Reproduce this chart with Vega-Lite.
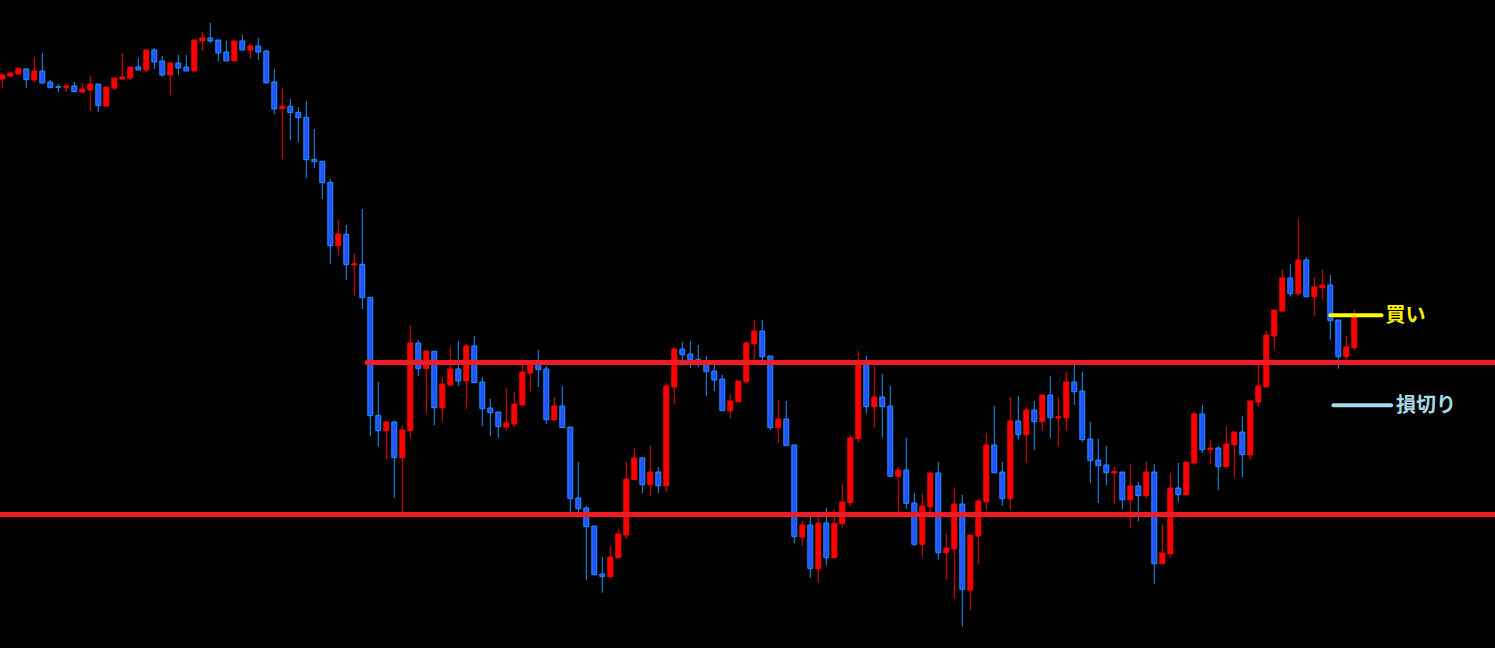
{
"$schema": "https://vega.github.io/schema/vega-lite/v6.json",
"width": 1495, "height": 648,
"autosize": {"type": "none"},
"padding": 0,
"background": "#000000",
"config": {"view": {"stroke": null}},
"datasets": {
"candles": [
{"i":0,"o":569,"h":574.7,"l":560,"c":573},
{"i":1,"o":572,"h":576.3,"l":571,"c":575},
{"i":2,"o":574,"h":580.7,"l":574,"c":579.3},
{"i":3,"o":579,"h":580,"l":560,"c":568.3},
{"i":4,"o":568,"h":591,"l":566,"c":577},
{"i":5,"o":577,"h":595,"l":564,"c":565},
{"i":6,"o":566,"h":568,"l":560.3,"c":560.3},
{"i":7,"o":561.3,"h":564,"l":556,"c":560.7},
{"i":8,"o":560.3,"h":564,"l":556,"c":562},
{"i":9,"o":562,"h":566,"l":556.3,"c":556.3},
{"i":10,"o":556,"h":565,"l":555,"c":559},
{"i":11,"o":558,"h":572,"l":537,"c":564},
{"i":12,"o":564,"h":564,"l":536,"c":542.3},
{"i":13,"o":542,"h":561,"l":542,"c":561},
{"i":14,"o":560,"h":570,"l":558,"c":570},
{"i":15,"o":569,"h":595,"l":568,"c":571},
{"i":16,"o":570,"h":581,"l":568,"c":581},
{"i":17,"o":581,"h":590,"l":578,"c":578},
{"i":18,"o":578,"h":598,"l":576,"c":598},
{"i":19,"o":598,"h":600,"l":579,"c":586},
{"i":20,"o":587,"h":592,"l":571,"c":573},
{"i":21,"o":573,"h":585,"l":553,"c":585},
{"i":22,"o":585,"h":593,"l":573,"c":580},
{"i":23,"o":581,"h":593,"l":577,"c":577},
{"i":24,"o":577,"h":608,"l":577,"c":608},
{"i":25,"o":607,"h":616,"l":597,"c":610},
{"i":26,"o":610,"h":625,"l":605,"c":607},
{"i":27,"o":608,"h":608,"l":587,"c":595},
{"i":28,"o":596,"h":607,"l":587,"c":587},
{"i":29,"o":587,"h":607,"l":587,"c":607},
{"i":30,"o":607,"h":613,"l":598,"c":598},
{"i":31,"o":598,"h":604,"l":589,"c":602},
{"i":32,"o":602,"h":610,"l":588,"c":596},
{"i":33,"o":597,"h":598,"l":565,"c":565},
{"i":34,"o":566,"h":579,"l":534,"c":539},
{"i":35,"o":539.3,"h":560,"l":489,"c":541.7},
{"i":36,"o":541.7,"h":549,"l":508,"c":535.3},
{"i":37,"o":535.7,"h":540.7,"l":506,"c":530.3},
{"i":38,"o":530.7,"h":547,"l":470,"c":488.3},
{"i":39,"o":488.7,"h":519,"l":480,"c":486.3},
{"i":40,"o":486.7,"h":486.7,"l":449,"c":465.3},
{"i":41,"o":465.7,"h":469,"l":384,"c":402.3},
{"i":42,"o":402.3,"h":428,"l":393,"c":414},
{"i":43,"o":413.7,"h":423,"l":368,"c":383.3},
{"i":44,"o":383,"h":394,"l":352,"c":384.3},
{"i":45,"o":383.7,"h":439,"l":339,"c":350.3},
{"i":46,"o":350.7,"h":350.7,"l":212,"c":232.3},
{"i":47,"o":232.7,"h":266,"l":201.3,"c":217.3},
{"i":48,"o":217.3,"h":226,"l":189,"c":226},
{"i":49,"o":226,"h":227.3,"l":150.3,"c":190.3},
{"i":50,"o":190.3,"h":223,"l":135,"c":218},
{"i":51,"o":217.3,"h":322,"l":210.3,"c":305},
{"i":52,"o":305,"h":308,"l":272,"c":279.3},
{"i":53,"o":279.3,"h":297,"l":235,"c":297},
{"i":54,"o":296.7,"h":296.7,"l":223,"c":240.3},
{"i":55,"o":240.3,"h":271,"l":227,"c":264},
{"i":56,"o":263,"h":300.7,"l":262,"c":279},
{"i":57,"o":279,"h":307,"l":262,"c":267},
{"i":58,"o":267,"h":304,"l":239,"c":302},
{"i":59,"o":302,"h":312,"l":265.3,"c":265.3},
{"i":60,"o":266,"h":271,"l":222,"c":239.3},
{"i":61,"o":240,"h":249,"l":212,"c":235.3},
{"i":62,"o":236,"h":236,"l":210,"c":221.3},
{"i":63,"o":221,"h":260,"l":217,"c":225},
{"i":64,"o":224,"h":256,"l":221,"c":244},
{"i":65,"o":243,"h":289,"l":243,"c":276},
{"i":66,"o":275,"h":288,"l":256,"c":284.7},
{"i":67,"o":284.7,"h":298,"l":261,"c":278.3},
{"i":68,"o":279,"h":282,"l":224,"c":228.3},
{"i":69,"o":228.3,"h":251,"l":227,"c":242},
{"i":70,"o":242,"h":262,"l":220.3,"c":220.3},
{"i":71,"o":221,"h":221,"l":135.3,"c":149.3},
{"i":72,"o":150,"h":186,"l":135.3,"c":139.3},
{"i":73,"o":140,"h":142,"l":68,"c":121.3},
{"i":74,"o":122,"h":122,"l":72.3,"c":73.3},
{"i":75,"o":74,"h":91,"l":55.3,"c":71.3},
{"i":76,"o":71.3,"h":102,"l":69.3,"c":91},
{"i":77,"o":90.3,"h":119,"l":90.3,"c":114},
{"i":78,"o":113,"h":186,"l":109,"c":169},
{"i":79,"o":168.3,"h":200,"l":168.3,"c":190},
{"i":80,"o":190,"h":191,"l":155,"c":163.3},
{"i":81,"o":163.3,"h":202,"l":152,"c":176},
{"i":82,"o":176,"h":181,"l":155,"c":162.3},
{"i":83,"o":162.3,"h":265,"l":156,"c":262},
{"i":84,"o":261,"h":301,"l":244,"c":299},
{"i":85,"o":299,"h":306,"l":282.3,"c":293.3},
{"i":86,"o":294,"h":307,"l":280,"c":288},
{"i":87,"o":288.7,"h":303,"l":281.3,"c":285.3},
{"i":88,"o":284.7,"h":292,"l":252,"c":276.3},
{"i":89,"o":277,"h":283,"l":257,"c":268},
{"i":90,"o":269,"h":273,"l":237.3,"c":237.3},
{"i":91,"o":237.3,"h":254,"l":230,"c":247},
{"i":92,"o":246.3,"h":267,"l":246.3,"c":267},
{"i":93,"o":266.3,"h":307,"l":264.3,"c":305},
{"i":94,"o":304.3,"h":328,"l":289,"c":317},
{"i":95,"o":317,"h":328,"l":288,"c":291.3},
{"i":96,"o":292,"h":292,"l":218,"c":220.3},
{"i":97,"o":220.3,"h":248,"l":205,"c":229},
{"i":98,"o":229,"h":247,"l":202.3,"c":202.3},
{"i":99,"o":203,"h":203,"l":105,"c":111.3},
{"i":100,"o":111,"h":127,"l":102.3,"c":123},
{"i":101,"o":123,"h":132,"l":70.3,"c":79.3},
{"i":102,"o":79.3,"h":132,"l":65.3,"c":125},
{"i":103,"o":125,"h":140,"l":82.3,"c":90.3},
{"i":104,"o":90.3,"h":138,"l":90.3,"c":124.7},
{"i":105,"o":124.3,"h":164,"l":120.3,"c":146},
{"i":106,"o":145.3,"h":213,"l":142.3,"c":210},
{"i":107,"o":209.3,"h":297,"l":205.3,"c":283},
{"i":108,"o":285,"h":292,"l":234.3,"c":241.3},
{"i":109,"o":241.3,"h":282,"l":220.3,"c":251},
{"i":110,"o":251,"h":274,"l":210.3,"c":241.3},
{"i":111,"o":242,"h":262,"l":171.7,"c":171.7},
{"i":112,"o":171.7,"h":181,"l":136.3,"c":178},
{"i":113,"o":178,"h":210,"l":139.3,"c":144.7},
{"i":114,"o":145,"h":155,"l":102,"c":103.7},
{"i":115,"o":103.7,"h":154,"l":91.3,"c":142},
{"i":116,"o":141.3,"h":176,"l":136.3,"c":175},
{"i":117,"o":175,"h":186,"l":88.3,"c":95.3},
{"i":118,"o":95.3,"h":114,"l":68.3,"c":100},
{"i":119,"o":99.3,"h":160,"l":49.3,"c":144},
{"i":120,"o":144,"h":153,"l":21.3,"c":58.7},
{"i":121,"o":58,"h":113,"l":38.3,"c":113},
{"i":122,"o":112,"h":149,"l":84,"c":147},
{"i":123,"o":146.3,"h":215,"l":138.3,"c":203},
{"i":124,"o":203,"h":242,"l":175.3,"c":175.3},
{"i":125,"o":176,"h":186,"l":142.3,"c":149.3},
{"i":126,"o":149.3,"h":251,"l":138.3,"c":227},
{"i":127,"o":227,"h":252,"l":208.3,"c":213.3},
{"i":128,"o":213.3,"h":241,"l":185.3,"c":238},
{"i":129,"o":238,"h":247,"l":198,"c":226.3},
{"i":130,"o":226.3,"h":253,"l":217.3,"c":253},
{"i":131,"o":253,"h":272,"l":210,"c":230.3},
{"i":132,"o":230,"h":251,"l":202,"c":231.3},
{"i":133,"o":230.3,"h":276,"l":217.3,"c":266},
{"i":134,"o":266,"h":283,"l":243.3,"c":256.3},
{"i":135,"o":257,"h":276,"l":206.3,"c":208.3},
{"i":136,"o":209,"h":226,"l":165,"c":187.3},
{"i":137,"o":188,"h":209,"l":145,"c":182.3},
{"i":138,"o":183,"h":202,"l":163,"c":175.3},
{"i":139,"o":175,"h":181,"l":144,"c":176.3},
{"i":140,"o":176,"h":176,"l":139,"c":148.3},
{"i":141,"o":148.3,"h":184,"l":120,"c":162},
{"i":142,"o":162,"h":166,"l":127,"c":152.3},
{"i":143,"o":152.3,"h":186,"l":150.3,"c":176},
{"i":144,"o":176,"h":184,"l":64.3,"c":84.3},
{"i":145,"o":84.3,"h":124,"l":84.3,"c":95},
{"i":146,"o":94.3,"h":175,"l":90.3,"c":160},
{"i":147,"o":160,"h":185,"l":146,"c":153.3},
{"i":148,"o":153.3,"h":186,"l":153.3,"c":186},
{"i":149,"o":185,"h":236,"l":183,"c":234},
{"i":150,"o":234,"h":243,"l":195,"c":198.3},
{"i":151,"o":198.3,"h":208,"l":184,"c":200},
{"i":152,"o":200,"h":202,"l":158,"c":181.3},
{"i":153,"o":181.3,"h":222,"l":180.3,"c":204},
{"i":154,"o":203.3,"h":216,"l":171,"c":216},
{"i":155,"o":216,"h":232,"l":171,"c":193.3},
{"i":156,"o":193,"h":247,"l":188.3,"c":247},
{"i":157,"o":246,"h":283,"l":241.3,"c":262},
{"i":158,"o":261,"h":317,"l":261,"c":313},
{"i":159,"o":312,"h":338,"l":299,"c":338},
{"i":160,"o":337,"h":378,"l":336,"c":370},
{"i":161,"o":370,"h":384,"l":351.3,"c":354.3},
{"i":162,"o":354.3,"h":429,"l":352.3,"c":388},
{"i":163,"o":388,"h":391,"l":351.3,"c":351.3},
{"i":164,"o":351.3,"h":370,"l":332,"c":361},
{"i":165,"o":360.3,"h":378,"l":348.3,"c":363},
{"i":166,"o":363,"h":373,"l":308.3,"c":327.3},
{"i":167,"o":328,"h":328,"l":279.3,"c":291.3},
{"i":168,"o":291.3,"h":312,"l":286.3,"c":301},
{"i":169,"o":300.3,"h":338,"l":297.3,"c":331}
],
"lines": [
{"kind":"resistance","p":285.5,"x1":45.6,"x2":187,"label":""},
{"kind":"support","p":133.5,"x1":-1,"x2":187,"label":""},
{"kind":"entry","p":332.7,"x1":166.0,"x2":172.4,"label":"買い"},
{"kind":"stoploss","p":242.7,"x1":166.4,"x2":173.6,"label":"損切り"}
]
},
"layer": [
{
"data": {"name": "candles"},
"mark": {"type": "rule", "strokeWidth": 1},
"encoding": {
"x": {"field": "i", "type": "quantitative", "scale": {"domain": [-0.2875, 186.5875], "nice": false, "zero": false, "padding": 0}, "axis": null},
"y": {"field": "l", "type": "quantitative", "scale": {"domain": [0, 648], "nice": false, "zero": false, "padding": 0}, "axis": null},
"y2": {"field": "h"},
"color": {"condition": {"test": "datum.c > datum.o", "value": "#ff0000"}, "value": "#1e90ff"}
}
},
{
"data": {"name": "candles"},
"mark": {"type": "bar", "width": 5, "strokeWidth": 1},
"encoding": {
"x": {"field": "i", "type": "quantitative"},
"y": {"field": "o", "type": "quantitative"},
"y2": {"field": "c"},
"fill": {"condition": {"test": "datum.c > datum.o", "value": "#ff0000"}, "value": "#2452ff"},
"stroke": {"condition": {"test": "datum.c > datum.o", "value": "#ff0000"}, "value": "#1e90ff"}
}
},
{
"data": {"name": "lines"},
"transform": [{"filter": "datum.kind == 'resistance' || datum.kind == 'support'"}],
"mark": {"type": "rule", "strokeWidth": 5, "color": "#ee1c25", "strokeCap": "round"},
"encoding": {
"x": {"field": "x1", "type": "quantitative"},
"x2": {"field": "x2"},
"y": {"field": "p", "type": "quantitative"}
}
},
{
"data": {"name": "lines"},
"transform": [{"filter": "datum.kind == 'entry'"}],
"mark": {"type": "rule", "strokeWidth": 4, "color": "#ffff00", "strokeCap": "round"},
"encoding": {
"x": {"field": "x1", "type": "quantitative"},
"x2": {"field": "x2"},
"y": {"field": "p", "type": "quantitative"}
}
},
{
"data": {"name": "lines"},
"transform": [{"filter": "datum.kind == 'stoploss'"}],
"mark": {"type": "rule", "strokeWidth": 4, "color": "#a8dcea", "strokeCap": "round"},
"encoding": {
"x": {"field": "x1", "type": "quantitative"},
"x2": {"field": "x2"},
"y": {"field": "p", "type": "quantitative"}
}
},
{
"data": {"name": "lines"},
"transform": [{"filter": "datum.kind == 'entry'"}],
"mark": {"type": "text", "align": "left", "baseline": "middle", "dx": 4, "dy": 1, "font": "Noto Sans CJK JP", "fontWeight": "bold", "fontSize": 20, "color": "#ffee00"},
"encoding": {
"x": {"field": "x2", "type": "quantitative"},
"y": {"field": "p", "type": "quantitative"},
"text": {"field": "label"}
}
},
{
"data": {"name": "lines"},
"transform": [{"filter": "datum.kind == 'stoploss'"}],
"mark": {"type": "text", "align": "left", "baseline": "middle", "dx": 5, "dy": 1, "font": "Noto Sans CJK JP", "fontWeight": "bold", "fontSize": 20, "color": "#a8d8e6"},
"encoding": {
"x": {"field": "x2", "type": "quantitative"},
"y": {"field": "p", "type": "quantitative"},
"text": {"field": "label"}
}
}
]
}
